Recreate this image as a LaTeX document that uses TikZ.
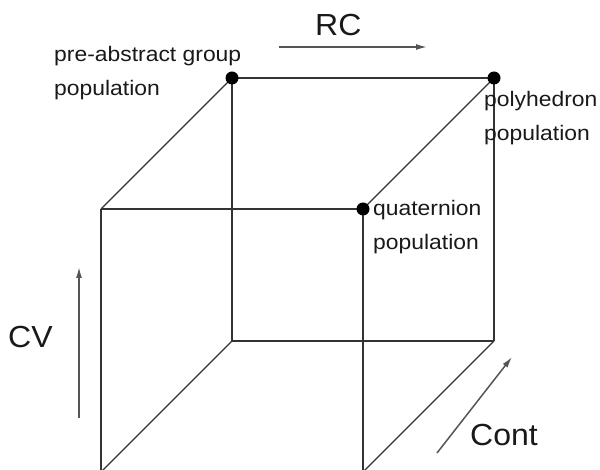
\documentclass[tikz,border=0pt]{standalone}
\usepackage{fontspec}
\setmainfont{Liberation Sans}
\newfontfamily\smallfam[FakeStretch=1.09]{Liberation Sans}
\newfontfamily\bigfam[FakeStretch=1.05]{Liberation Sans}
\usetikzlibrary{arrows.meta}
\definecolor{edgecol}{HTML}{333333}
\definecolor{arrcol}{HTML}{555555}
\begin{document}
\begin{tikzpicture}[x=1pt,y=-1pt,
  edge/.style={draw=edgecol,line width=1.3pt},
  dirarrow/.style={draw=arrcol,line width=1.5pt,-{Latex[length=11pt,width=6pt]}},
  vdot/.style={circle,fill=black,inner sep=0pt,minimum size=13pt},
  smalllab/.style={inner sep=0pt,anchor=base west,align=left,text=black!90,
    font={\smallfam\fontsize{21}{34}\selectfont}},
  biglab/.style={inner sep=0pt,anchor=base west,text=black!90,
    font={\bigfam\fontsize{30.5}{36}\selectfont}}]
\useasboundingbox (0,0) rectangle (600,470);
% cube corners
\coordinate (btl) at (232,78);
\coordinate (btr) at (494,78);
\coordinate (bbl) at (232,341);
\coordinate (bbr) at (494,341);
\coordinate (ftl) at (101,209);
\coordinate (ftr) at (363,209);
\coordinate (fbl) at (101,472);
\coordinate (fbr) at (363,472);
% edges
\draw[edge] (btl) -- (btr);
\draw[edge] (btl) -- (bbl);
\draw[edge] (btr) -- (bbr);
\draw[edge] (bbl) -- (bbr);
\draw[edge] (ftl) -- (ftr);
\draw[edge] (ftl) -- (fbl);
\draw[edge] (ftr) -- (fbr);
\draw[edge] (btl) -- (ftl);
\draw[edge] (btr) -- (ftr);
\draw[edge] (bbl) -- (fbl);
\draw[edge] (bbr) -- (fbr);
% dots
\node[vdot] (pag) at (btl) {};
\node[vdot] (poly) at (btr) {};
\node[vdot] (quat) at (ftr) {};
% labels (anchored at the baseline of their last line)
\node[smalllab] (pagl) at (54,96) {pre-abstract group\\population};
\node[smalllab] (polyl) at (484,141) {polyhedron\\population};
\node[smalllab] (quatl) at (373,250) {quaternion\\population};
% direction arrows
\coordinate (rcs) at (279,47);
\coordinate (rce) at (427,47);
\coordinate (cvs) at (79,418);
\coordinate (cve) at (79,267);
\coordinate (cos) at (437,453);
\coordinate (coe) at (512,357);
\draw[dirarrow] (rcs) -- (rce);
\draw[dirarrow] (cvs) -- (cve);
\draw[dirarrow] (cos) -- (coe);
\node[biglab] (rc) at (315,36) {RC};
\node[biglab] (cv) at (8,348) {CV};
\node[biglab] (cont) at (470,445) {Cont};
\end{tikzpicture}
\end{document}
